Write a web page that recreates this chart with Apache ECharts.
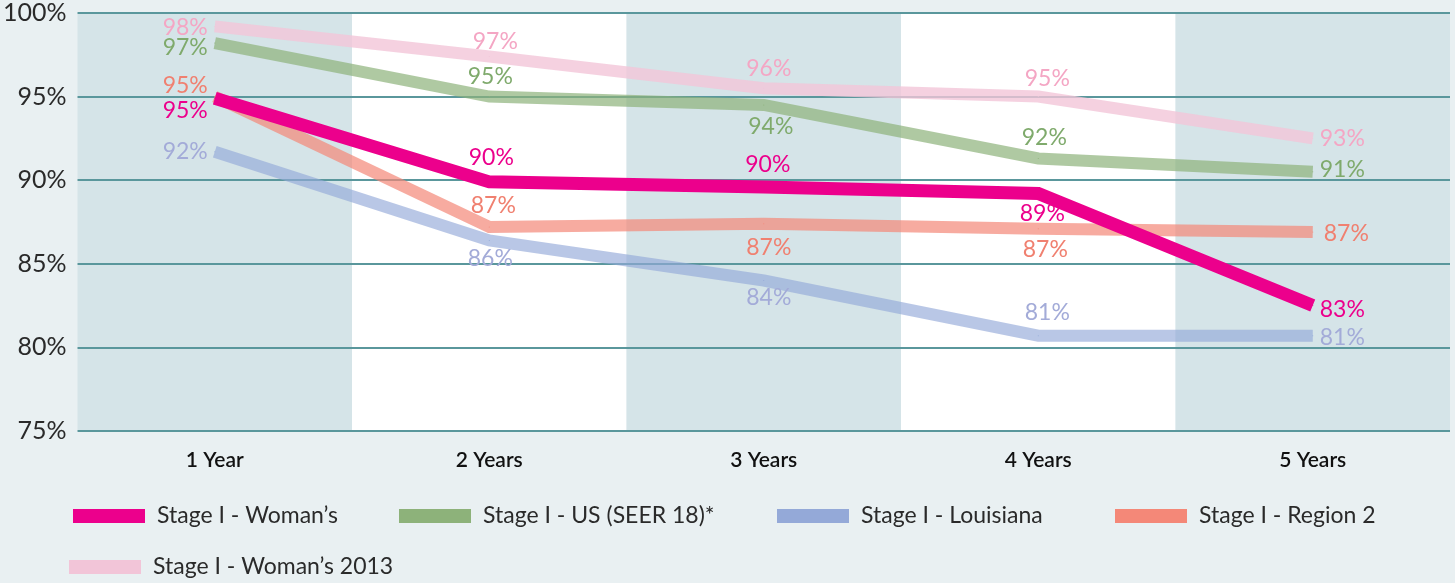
<!DOCTYPE html>
<html>
<head>
<meta charset="utf-8">
<script src="https://cdn.jsdelivr.net/npm/echarts@6/dist/echarts.min.js"></script>
<style>
  html, body { margin: 0; padding: 0; background: #e9f0f2; }
  #chart { width: 1455px; height: 583px; }
</style>
</head>
<body>
<div id="chart"></div>
<script>
// categories and tick labels
const years = ['1 Year', '2 Years', '3 Years', '4 Years', '5 Years']
const yTicks = [75, 80, 85, 90, 95, 100]

// survival values (%)
const womans = [94.9, 89.9, 89.6, 89.2, 82.5]
const usSeer = [98.2, 95.0, 94.5, 91.3, 90.5]
const louisiana = [91.7, 86.4, 84.0, 80.7, 80.7]
const region2 = [95.0, 87.2, 87.4, 87.1, 86.9]
const womans2013 = [99.2, 97.4, 95.5, 95.0, 92.5]

// printed labels
const womansLbl = [95, 90, 90, 89, 83]
const usSeerLbl = [97, 95, 94, 92, 91]
const louisianaLbl = [92, 86, 84, 81, 81]
const region2Lbl = [95, 87, 87, 87, 87]
const womans2013Lbl = [98, 97, 96, 95, 93]

// label offsets from each point (layout only)
const offsets = {
    womans: [[-7, 12], [2, -24], [4, -22], [4, 20], [7, 4]],
    usSeer: [[-7, 4], [1, -20], [7, 22], [6, -21], [7, -2]],
    louisiana: [[-7, 0], [1, 18], [5, 17], [9, -23], [7, 2]],
    region2: [[-7, -11], [4, -21], [5, 24], [7, 21], [11, 2]],
    womans2013: [[-7, 1], [6, -15], [5, -20], [9, -18], [7, 0]]
}

const font = 'Lato, "Open Sans", sans-serif'

function makeSeries(name, values, labels, offs, color, labelColor, width, opacity) {
    return {
        name: name,
        type: 'line',
        symbol: 'circle',
        symbolSize: 1,
        showSymbol: true,
        itemStyle: { color: color },
        lineStyle: { color: color, width: width, opacity: opacity, cap: 'butt', join: 'miter' },
        emphasis: { disabled: true },
        data: values.map((v, i) => ({
            value: v,
            label: {
                show: true,
                position: 'inside',
                align: i === 0 ? 'right' : (i === values.length - 1 ? 'left' : 'center'),
                verticalAlign: 'middle',
                offset: offs[i],
                formatter: labels[i] + '%',
                color: labelColor,
                fontSize: 23,
                fontFamily: font
            }
        }))
    }
}

const chart = echarts.init(document.getElementById('chart'))

const legendItems = [
    { name: 'Stage I - Woman’s', left: 73, top: 502 },
    { name: 'Stage I - US (SEER 18)*', left: 399, top: 502 },
    { name: 'Stage I - Louisiana', left: 777, top: 502 },
    { name: 'Stage I - Region 2', left: 1115, top: 502 },
    { name: 'Stage I - Woman’s 2013', left: 69, top: 553 }
]

const option = {
    animation: false,
    backgroundColor: '#e9f0f2',
    grid: { left: 77, right: 5, top: 13, bottom: 152 },
    legend: legendItems.map(it => ({
        data: [it.name],
        left: it.left,
        top: it.top,
        padding: 0,
        icon: 'rect',
        itemWidth: 72,
        itemHeight: 14,
        selectedMode: false,
        textStyle: {
            color: '#2a2a2a',
            fontSize: 23,
            fontFamily: font,
            padding: [0, 0, 0, 7],
            lineHeight: 28
        }
    })),
    xAxis: {
        type: 'category',
        data: years,
        boundaryGap: true,
        z: 0,
        axisLine: { show: false },
        axisTick: { show: false },
        axisLabel: {
            color: '#111',
            fontSize: 21,
            fontWeight: 600,
            fontFamily: font,
            margin: 19
        },
        splitArea: {
            show: true,
            areaStyle: { color: ['#d5e4e8', '#ffffff'] }
        }
    },
    yAxis: {
        type: 'value',
        min: yTicks[0],
        max: yTicks[yTicks.length - 1],
        interval: 5,
        z: 1,
        axisLine: { show: false },
        axisTick: { show: false },
        axisLabel: {
            formatter: '{value}%',
            color: '#2a2a2a',
            fontSize: 25,
            fontFamily: font,
            margin: 11
        },
        splitLine: { lineStyle: { color: '#5a979c', width: 2 } }
    },
    series: [
        makeSeries('Stage I - Woman’s 2013', womans2013, womans2013Lbl, offsets.womans2013, '#f2c5d8', '#f4a6c4', 12, 0.8),
        makeSeries('Stage I - US (SEER 18)*', usSeer, usSeerLbl, offsets.usSeer, '#8db27a', '#7faa6c', 12, 0.7),
        makeSeries('Stage I - Louisiana', louisiana, louisianaLbl, offsets.louisiana, '#94a9d8', '#a3abd8', 12, 0.65),
        makeSeries('Stage I - Region 2', region2, region2Lbl, offsets.region2, '#f48878', '#f08070', 12, 0.7),
        makeSeries('Stage I - Woman’s', womans, womansLbl, offsets.womans, '#ec008c', '#ec008c', 13, 1)
    ]
}

chart.setOption(option)
</script>
</body>
</html>
